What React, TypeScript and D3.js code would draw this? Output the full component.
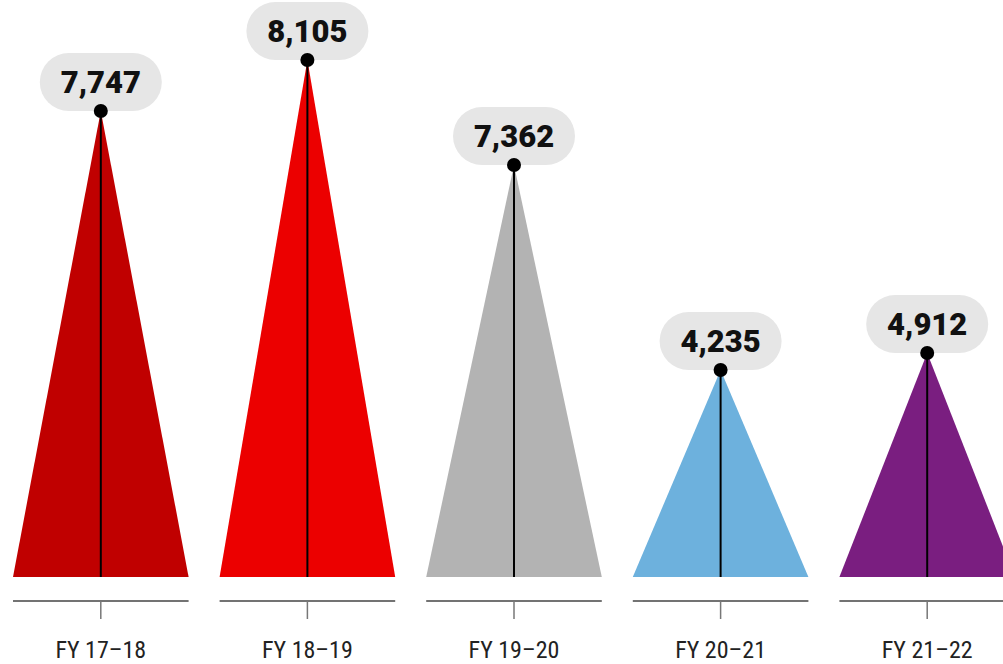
import React from "react";
import * as d3 from "d3";

const categories = ["FY 17–18", "FY 18–19", "FY 19–20", "FY 20–21", "FY 21–22"];
const values = [7747, 8105, 7362, 4235, 4912];
// drawn triangle heights, in the same units as the value scale
const shapeHeights = [7305, 8105, 6459, 3245, 3512];
const colors = ["#c00000", "#ec0000", "#b3b3b3", "#6db1dd", "#7a1e80"];

const W = 1003;
const H = 664;

export default function App() {
  const step = 206.6;
  const gap = 31;
  const x = d3
    .scaleBand<string>()
    .domain(categories)
    .range([13, 13 + 5 * step - gap])
    .paddingInner(gap / step)
    .paddingOuter(0);
  const y = d3.scaleLinear().domain([0, 8105]).range([577, 60]);
  const bw = x.bandwidth();
  const fmt = d3.format(",");
  const axisY = 601;

  return (
    <div style={{ position: "absolute", left: 0, top: 0 }}>
      <svg width={W} height={H} style={{ display: "block" }}>
        {categories.map((c, i) => {
          const x0 = x(c)!;
          const cx = x0 + bw / 2;
          const py = y(shapeHeights[i]);
          const path = d3.path();
          path.moveTo(x0, y(0));
          path.lineTo(cx, py);
          path.lineTo(x0 + bw, y(0));
          path.closePath();
          const label = fmt(values[i]);
          return (
            <g key={c}>
              <path d={path.toString()} fill={colors[i]} />
              <line x1={cx} x2={cx} y1={py} y2={y(0)} stroke="#000" strokeWidth={2} />
              <rect x={cx - 61} y={py - 58} width={122} height={58} rx={29} ry={29} fill="#e6e6e6" />
              <text
                x={cx}
                y={py - 18}
                textAnchor="middle"
                fontFamily="Roboto, sans-serif"
                fontWeight={900}
                fontSize={31}
                fill="#111"
              >
                {label}
              </text>
              <circle cx={cx} cy={py} r={7} fill="#000" />
              <line x1={x0} x2={x0 + bw} y1={axisY} y2={axisY} stroke="#444" strokeWidth={1.5} />
              <line x1={cx} x2={cx} y1={axisY} y2={axisY + 18} stroke="#777" strokeWidth={1.5} />
              <text
                x={cx}
                y={658}
                textAnchor="middle"
                fontFamily="'Roboto Condensed', 'Liberation Sans Narrow', 'DejaVu Sans Condensed', Roboto, sans-serif"
                fontSize={24}
                fill="#222"
              >
                {c}
              </text>
            </g>
          );
        })}
      </svg>
    </div>
  );
}
